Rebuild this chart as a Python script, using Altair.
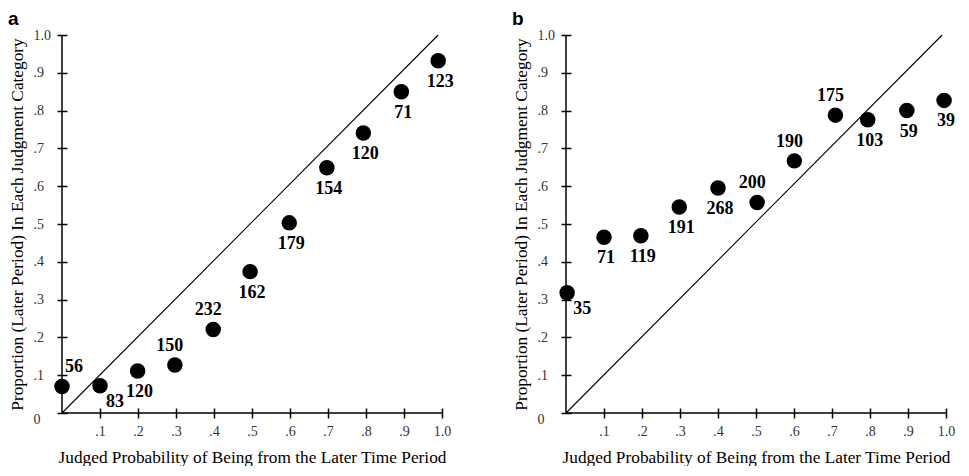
import altair as alt
import pandas as pd

# ---- data ----
judged_a = [0.0, 0.10, 0.199, 0.297, 0.398, 0.495, 0.598, 0.697, 0.793, 0.893, 0.990]
prop_a = [0.070, 0.072, 0.111, 0.127, 0.221, 0.374, 0.503, 0.649, 0.741, 0.850, 0.932]
n_a = [56, 83, 120, 150, 232, 162, 179, 154, 120, 71, 123]
place_a = ["aboveright", "belowright", "below", "above", "above", "below",
           "below", "below", "below", "below", "below"]

judged_b = [0.003, 0.10, 0.197, 0.298, 0.400, 0.503, 0.601, 0.709, 0.794, 0.897, 0.995]
prop_b = [0.318, 0.465, 0.469, 0.545, 0.595, 0.557, 0.667, 0.788, 0.776, 0.800, 0.827]
n_b = [35, 71, 119, 191, 268, 200, 190, 175, 103, 59, 39]
place_b = ["belowright", "below", "below", "below", "below", "above",
           "above", "above", "below", "below", "below"]

x_ticks = [0.1, 0.2, 0.3, 0.4, 0.5, 0.6, 0.7, 0.8, 0.9, 1.0]
y_ticks = [0.0, 0.1, 0.2, 0.3, 0.4, 0.5, 0.6, 0.7, 0.8, 0.9, 1.0]
diag_x = [0.0, 0.99]
diag_y = [0.0, 1.0]

x_title = "Judged Probability of Being from the Later Time Period"
y_title = "Proportion (Later Period) In Each Judgment Category"

SERIF = "Liberation Serif"
SANS = "Liberation Sans"
OFFSETS = {"above": (-5, -19), "below": (2, 21), "aboveright": (12, -20), "belowright": (15, 16)}

lab_expr = "datum.value == 0 ? '0' : (datum.value >= 1 ? '1.0' : replace(format(datum.value, '.1f'), '0.', '.'))"


def panel(letter, judged, prop, n, place):
    df = pd.DataFrame({"judged": judged, "prop": prop, "n": n, "place": place})
    xs = alt.Scale(domain=[0, 1], nice=False, zero=False)
    ys = alt.Scale(domain=[0, 1], nice=False, zero=False)
    common = dict(domain=False, grid=False, ticks=True, tickSize=10, offset=-5,
                  tickColor="black", tickWidth=1.5, tickOpacity=1, zindex=1,
                  labelExpr=lab_expr, labelFont=SERIF, labelFontSize=14,
                  labelColor="#333", labelOverlap=False, labelFlush=False,
                  titleFont=SERIF, titleFontSize=17.3, titleFontWeight="normal",
                  titleColor="black")
    xaxis = alt.Axis(values=x_ticks, title=x_title, labelPadding=6,
                     titlePadding=10, **common)
    yaxis = alt.Axis(values=y_ticks, title=y_title, labelPadding=24,
                     labelAlign="left", labelBaseline="middle",
                     labelOffset={"condition": {"test": "datum.value == 0", "value": 6}, "value": 0},
                     titlePadding=7, **common)
    X = alt.X("judged:Q", scale=xs, axis=xaxis)
    Y = alt.Y("prop:Q", scale=ys, axis=yaxis)

    pts = alt.Chart(df).mark_circle(size=240, color="black", opacity=1).encode(x=X, y=Y)

    one = pd.DataFrame({"k": [0]})
    vline = alt.Chart(one).mark_rule(color="black", strokeWidth=1.5).encode(
        x=alt.XDatum(0, scale=xs, axis=xaxis), y=alt.YDatum(0, scale=ys, axis=yaxis),
        y2=alt.datum(1))
    hline = alt.Chart(one).mark_rule(color="black", strokeWidth=1.5).encode(
        y=alt.YDatum(0, scale=ys, axis=yaxis), x=alt.XDatum(0, scale=xs, axis=xaxis),
        x2=alt.datum(1))

    diag = alt.Chart(pd.DataFrame({"judged": diag_x, "prop": diag_y})).mark_line(
        color="black", strokeWidth=1.1).encode(x=X, y=Y)

    texts = []
    for key, (dx, dy) in OFFSETS.items():
        texts.append(
            alt.Chart(df).transform_filter(alt.datum.place == key).mark_text(
                font=SERIF, fontSize=18, fontWeight="bold", color="black",
                dx=dx, dy=dy, align="center", baseline="middle"
            ).encode(x=X, y=Y, text="n:Q")
        )

    return alt.layer(pts, vline, hline, diag, *texts).properties(
        width=380, height=378,
        title=alt.TitleParams(letter, anchor="start", frame="bounds", font=SANS,
                              fontSize=19, fontWeight="bold", color="black",
                              offset=-4, dy=-3),
    )


chart = alt.hconcat(
    panel("a", judged_a, prop_a, n_a, place_a),
    panel("b", judged_b, prop_b, n_b, place_b),
    spacing=58,
).properties(padding={"left": 0, "top": 2, "right": 0, "bottom": 0}
).configure(background="white").configure_view(stroke=None)

chart.save("out.html", embed_options={"renderer": "svg", "actions": False})
